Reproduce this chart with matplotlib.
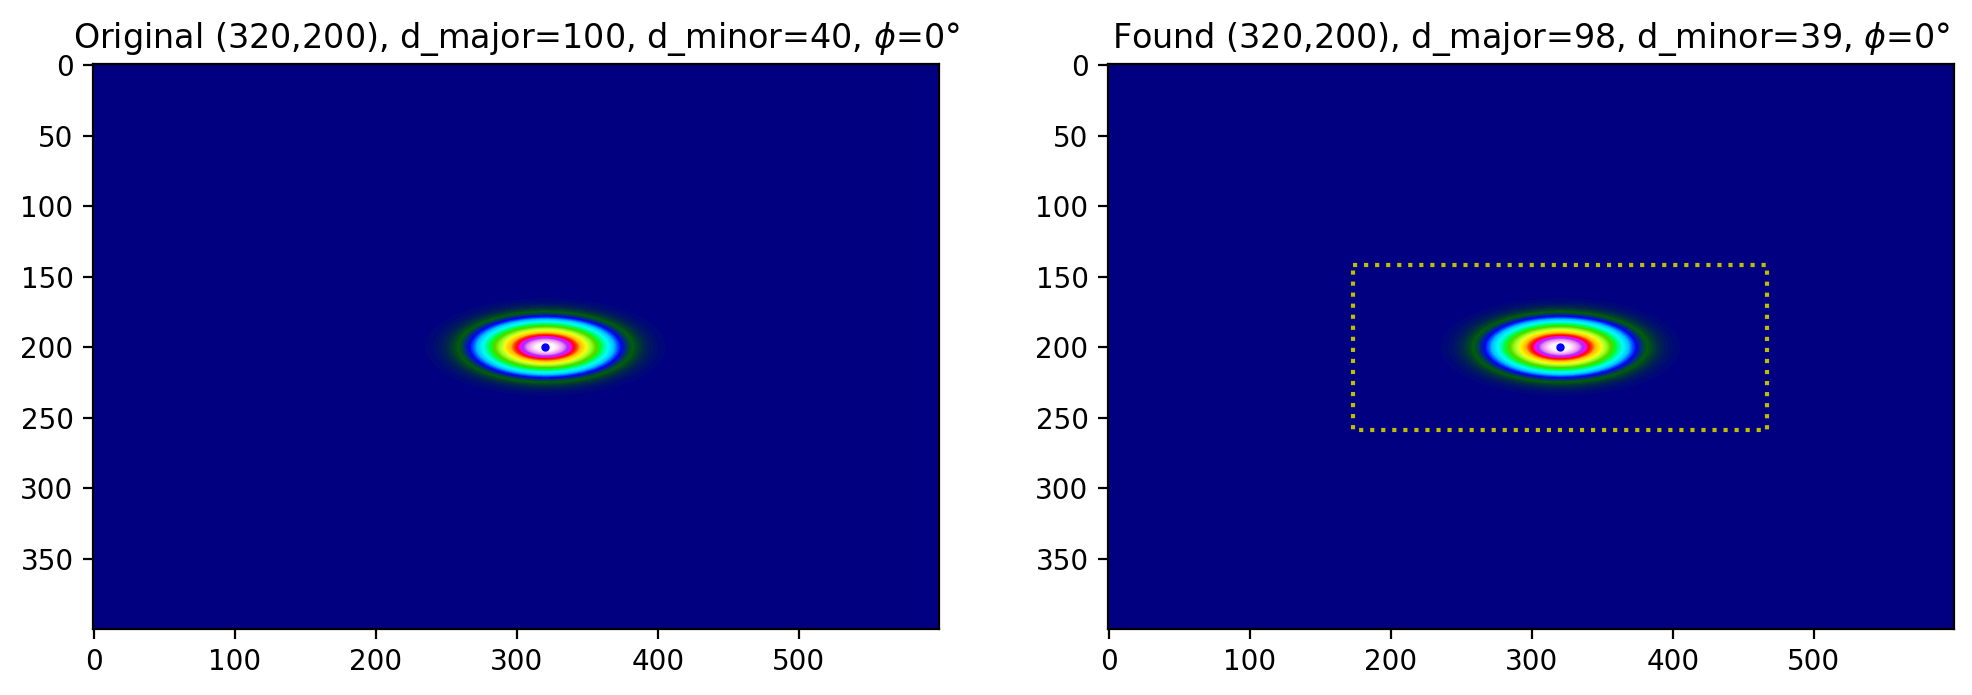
"""
Imagen original y haz encontrado, lado a lado.
"""
import numpy as np
import matplotlib
matplotlib.use("Agg")
import matplotlib.pyplot as plt

# intensidades leidas de los anillos de color, un cuadrante del haz
# filas: dy = 0, 5, ... 40 px ; columnas: dx = 0, 10, ... 100 px
beam_quadrant = np.array([
    [1.1100, 1.0170, 0.7840, 0.5130, 0.2865, 0.1373, 0.0564, 0.0198, 0.0060, 0.0015, 0.0003],
    [0.9680, 0.8880, 0.6860, 0.4500, 0.2520, 0.1210, 0.0498, 0.0175, 0.0053, 0.0013, 0.0003],
    [0.6470, 0.5940, 0.4620, 0.3050, 0.1720, 0.0828, 0.0341, 0.0120, 0.0036, 0.0009, 0.0002],
    [0.3360, 0.3100, 0.2420, 0.1610, 0.0912, 0.0441, 0.0182, 0.0064, 0.0019, 0.0005, 0.0001],
    [0.1373, 0.1266, 0.0993, 0.0664, 0.0378, 0.0183, 0.0076, 0.0027, 0.0008, 0.0002, 0.0000],
    [0.0441, 0.0407, 0.0320, 0.0214, 0.0122, 0.0059, 0.0025, 0.0009, 0.0003, 0.0001, 0.0000],
    [0.0111, 0.0102, 0.0081, 0.0054, 0.0031, 0.0015, 0.0006, 0.0002, 0.0001, 0.0000, 0.0000],
    [0.0022, 0.0020, 0.0016, 0.0011, 0.0006, 0.0003, 0.0001, 0.0000, 0.0000, 0.0000, 0.0000],
    [0.0003, 0.0003, 0.0002, 0.0001, 0.0001, 0.0000, 0.0000, 0.0000, 0.0000, 0.0000, 0.0000],
])
step_x = 10
step_y = 5

center = (320, 200)
original = (100, 40)
found = (98, 39)
rect_x = [173, 467, 467, 173, 173]
rect_y = [141.5, 141.5, 258.5, 258.5, 141.5]
img_w = 600
img_h = 400

W, H, DPI = 1972, 695, 200


def draw_beam(ax, size, title):
    right_half = np.vstack([beam_quadrant[:0:-1], beam_quadrant])
    beam = np.hstack([right_half[:, :0:-1], right_half])
    half_x = (beam_quadrant.shape[1] - 0.5) * step_x
    half_y = (beam_quadrant.shape[0] - 0.5) * step_y
    cmap = plt.get_cmap("gist_ncar")
    ax.set_facecolor(cmap(0))
    # el centro satura en blanco
    ax.imshow(beam, cmap=cmap, vmin=0, vmax=1, aspect="auto", interpolation="bicubic",
              extent=(center[0] - half_x, center[0] + half_x,
                      center[1] + half_y, center[1] - half_y))
    ax.plot(center[0], center[1], "ob", markersize=2)
    ax.set_xlim(-0.5, img_w - 0.5)
    ax.set_ylim(img_h - 0.5, -0.5)
    ax.set_title(f"{title} ({center[0]},{center[1]}), d_major={size[0]}, "
                 f"d_minor={size[1]}, $\\phi$=0°", fontsize=12)


fig = plt.figure(figsize=(W / DPI, H / DPI), dpi=DPI)
ax1 = fig.add_axes([93 / W, 1 - 628.5 / H, 846 / W, 564 / H])
ax2 = fig.add_axes([1108 / W, 1 - 628.5 / H, 846 / W, 564 / H])

draw_beam(ax1, original, "Original")
draw_beam(ax2, found, "Found")
ax2.plot(rect_x, rect_y, "y:")

fig.savefig("out.png", dpi=DPI)
